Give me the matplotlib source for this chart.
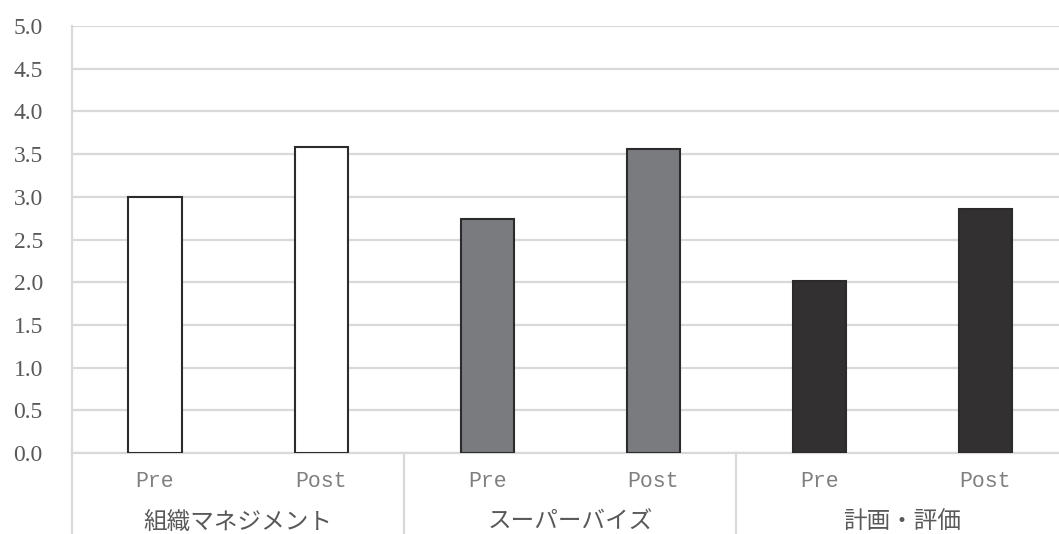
import matplotlib.pyplot as plt
import matplotlib.transforms as mtransforms

# scores per domain, before and after
groups = ['組織マネジメント', 'スーパーバイズ', '計画・評価']
phases = ['Pre', 'Post']
pre_scores = [3.0, 2.74, 2.01]
post_scores = [3.58, 3.56, 2.86]
group_colors = ['#ffffff', '#7a7b7f', '#323031']

fig = plt.figure(figsize=(10.59, 5.34), dpi=100)
ax = fig.add_axes([72 / 1059, 81 / 534, 996.5 / 1059, 427 / 534])

values = []
colors = []
labels = []
for i, g in enumerate(groups):
    values += [pre_scores[i], post_scores[i]]
    colors += [group_colors[i]] * 2
    labels += phases

x = list(range(len(values)))
ax.bar(x, values, width=0.32, color=colors, edgecolor='#2b2b2b',
       linewidth=1.5, zorder=3)

ax.set_xlim(-0.5, len(values) - 0.5)
ax.set_ylim(0, 5)
ax.set_yticks([i * 0.5 for i in range(11)])
ax.set_yticklabels([f'{i * 0.5:.1f}' for i in range(11)],
                   fontfamily='Liberation Serif', fontsize=17, color='#595959')
ax.yaxis.grid(True, color='#d9d9d9', linewidth=1.6, zorder=0)
ax.tick_params(axis='y', length=0, pad=21)

ax.set_xticks(x)
ax.set_xticklabels(labels, fontfamily='Liberation Mono', fontsize=15.5,
                   color='#7f7f7f')
ax.tick_params(axis='x', length=0, pad=13)

for side in ['top', 'right', 'bottom']:
    ax.spines[side].set_visible(False)
ax.spines['left'].set_color('#d9d9d9')
ax.spines['left'].set_linewidth(1.6)

trans = mtransforms.blended_transform_factory(ax.transData, ax.transAxes)
ax.plot([-0.5, len(values) - 0.5], [0, 0], transform=trans, color='#d9d9d9',
        linewidth=1.6, clip_on=False, zorder=2)
for k in range(len(groups) + 1):
    xs = -0.5 + 2 * k
    ax.plot([xs, xs], [0, -0.2], transform=trans, color='#d9d9d9',
            linewidth=1.6, clip_on=False)

for i, g in enumerate(groups):
    ax.text(2 * i + 0.5, -69 / 427, g, transform=trans, ha='center',
            va='center', fontsize=17, color='#595959',
            family=['Noto Sans CJK JP', 'DejaVu Sans'])

fig.savefig('out.png', dpi=100)
